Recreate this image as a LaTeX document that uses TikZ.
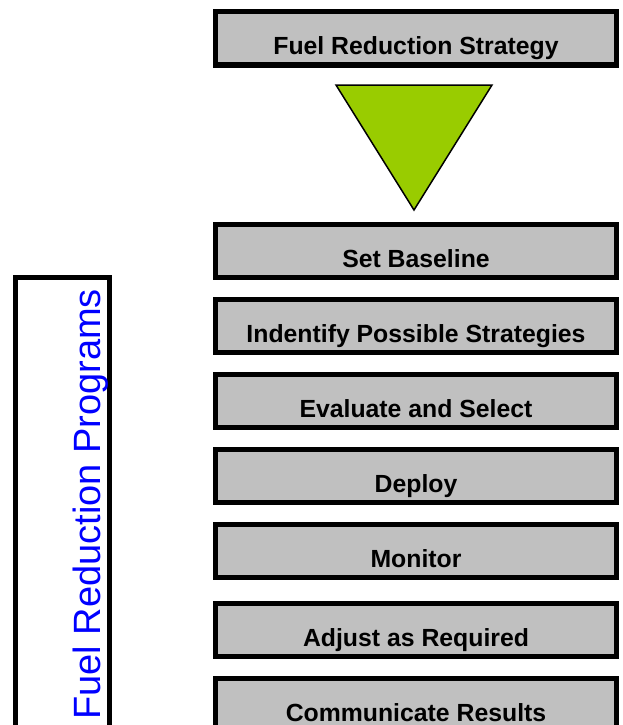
\documentclass[tikz,border=0pt]{standalone}
\usepackage{fontspec}
\setmainfont{Liberation Sans}
\usetikzlibrary{positioning}
\definecolor{boxgray}{HTML}{C0C0C0}
\definecolor{stagegreen}{HTML}{99CC00}
\tikzstyle{stage}=[rectangle,draw=black,line width=5pt,fill=boxgray,minimum width=401pt,inner sep=0pt,text height=43pt,text depth=10pt,font=\bfseries\fontsize{24.8}{28}\selectfont]
\tikzstyle{progframe}=[rectangle,draw=black,line width=5pt,minimum width=94pt,minimum height=462.5pt,inner sep=0pt]

\begin{document}
\begin{tikzpicture}[x=1pt,y=-1pt,node distance=17pt]
				
				\useasboundingbox (0,0) rectangle (622,725);
				
				\begin{scope}
				\node [stage] (strategy) at (416,38.5) {Fuel Reduction Strategy};
				
				\filldraw[fill=stagegreen,draw=black,line width=1.5pt,line join=miter] (336,85) -- (492,85) -- (414,210) -- cycle;
				
				\node [stage] (baseline) at (416,251) {Set Baseline};
				\node [stage, below=of baseline] (identify) {Indentify Possible Strategies};
				\node [stage, below=of identify] (evaluate) {Evaluate and Select};
				\node [stage, below=of evaluate] (deploy) {Deploy};
				\node [stage, below=of deploy] (monitor) {Monitor};
				\node [stage, below=21pt of monitor] (adjust) {Adjust as Required};
				\node [stage, below=of adjust] (communicate) {Communicate Results};
				\end{scope}
				
				\node [progframe] (programs) at (62.5,508.75) {};
				\node [rotate=90,anchor=base west,inner sep=0pt,text=blue,font=\fontsize{38}{40}\selectfont] (programstitle) at (100,720) {Fuel Reduction Programs};
				
				\end{tikzpicture}
\end{document}
